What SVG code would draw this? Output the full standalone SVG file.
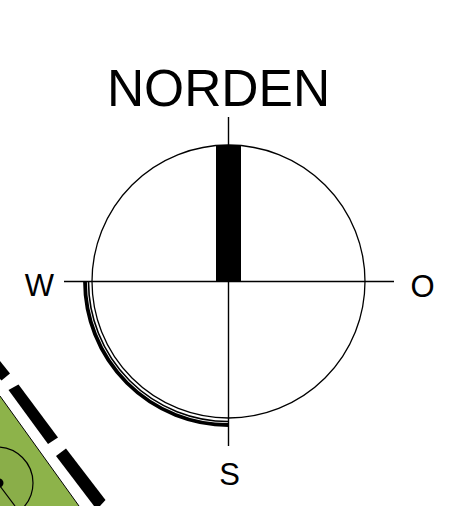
<svg xmlns="http://www.w3.org/2000/svg" width="467" height="506" viewBox="0 0 467 506">
<style>
text{font-family:"Liberation Sans",Arial,sans-serif;fill:#000}
.l{fill:none;stroke:#000}
</style>
<rect width="467" height="506" fill="#fff"/>
<g id="site">
<polygon points="0,396 79,506 0,506" fill="#8db34a"/>
<circle cx="-3" cy="483" r="36" fill="#8aae49" stroke="#000" stroke-width="1.200"/>
<path class="l" d="M0 396L79 506" stroke-width="1"/>
<circle cx="-1" cy="483" r="4.500" fill="#000"/>
<path class="l" d="M0 486L15 506" stroke-width="1.200"/>
<polygon points="0,361 10,373.500 1.500,380.500 0,379" fill="#000"/>
<polygon points="8.500,390 18.500,384.500 58,437.500 48,444" fill="#000"/>
<polygon points="56,456 66,448.500 105.500,500 100,506 94,506" fill="#000"/>
</g>
<g id="compass">
<circle class="l" cx="228.500" cy="281.500" r="136.500" stroke-width="1.300"/>
<rect x="216" y="145" width="25" height="136.500" fill="#000"/>
<path class="l" d="M228.500 117V446M64 281.500H394" stroke-width="1.400"/>
<path class="l" d="M85 281.500A143.500 143.500 0 0 0 228.500 425" stroke-width="3.800"/>
<path class="l" d="M88.500 281.500A140 140 0 0 0 228.500 421.500" stroke-width="1.600"/>
</g>
<g id="labels">
<text x="218.500" y="105.500" font-size="51.500" text-anchor="middle">NORDEN</text>
<text x="39.300" y="296" font-size="31" text-anchor="middle">W</text>
<text x="422.500" y="296.500" font-size="31" text-anchor="middle">O</text>
<text x="229.700" y="485" font-size="31" text-anchor="middle">S</text>
</g>
</svg>
